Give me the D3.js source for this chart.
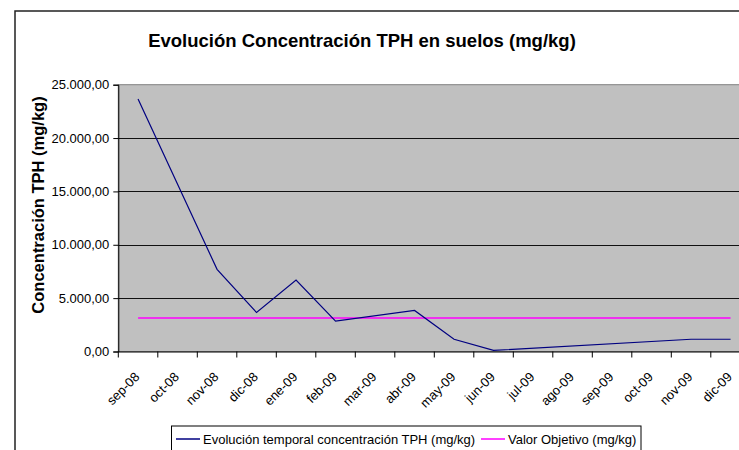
<!DOCTYPE html>
<html>
<head>
<meta charset="utf-8">
<script src="https://cdn.jsdelivr.net/npm/d3@7"></script>
<style>
	body { margin: 0; background: white; }
	svg { display: block; font-family: "Liberation Sans", Arial, sans-serif; }
</style>
</head>
<body>
<script>
var months = ["sep-08", "oct-08", "nov-08", "dic-08", "ene-09", "feb-09", "mar-09", "abr-09",
	"may-09", "jun-09", "jul-09", "ago-09", "sep-09", "oct-09", "nov-09", "dic-09"];

// null = no sample that month, Excel just joins the neighbours
var tph = [23650, null, 7700, 3650, 6700, 2850, null, 3850,
	1150, 100, null, null, null, null, 1150, 1150];

var objetivo = [3150, 3150, 3150, 3150, 3150, 3150, 3150, 3150,
	3150, 3150, 3150, 3150, 3150, 3150, 3150, 3150];

var yTicks = [0, 5000, 10000, 15000, 20000, 25000];

var titleText = "Evolución Concentración TPH en suelos (mg/kg)";
var yTitleText = "Concentración TPH (mg/kg)";
var legendNames = ["Evolución temporal concentración TPH (mg/kg)", "Valor Objetivo (mg/kg)"];

var width = 739;
var height = 450;

// plot area runs past the right edge of the picture
var plot = { left: 118.3, right: 750.3, top: 84.7, bottom: 351.5 };

var fmt = v => {
	var s = d3.format(",.2f")(v);
	return s.replace(/,/g, "#").replace(/\./g, ",").replace(/#/g, ".");
}

var svg = d3.select("body").append("svg")
		.attr("width", width)
		.attr("height", height)

// chart frame
svg.append("rect")
		.attr("x", 15)
		.attr("y", 11)
		.attr("width", 800)
		.attr("height", 500)
		.attr("fill", "white")
		.attr("stroke", "#222")
		.attr("stroke-width", 1.5)

var xScale = d3.scaleBand()
	.domain(months)
	.range([plot.left, plot.right])

var yScale = d3.scaleLinear()
	.domain([0, 25000])
	.range([plot.bottom, plot.top])

var cx = i => xScale(months[i]) + xScale.bandwidth()/2;

svg.append("rect")
		.attr("x", plot.left)
		.attr("y", plot.top)
		.attr("width", plot.right - plot.left)
		.attr("height", plot.bottom - plot.top)
		.attr("fill", "#C0C0C0")
		.attr("stroke", "#808080")
		.attr("stroke-width", 1)

// gridlines
svg.append("g")
		.selectAll("line")
		.data(yTicks.slice(1, -1))
		.join("line")
		.attr("x1", plot.left)
		.attr("x2", plot.right)
		.attr("y1", d => Math.round(yScale(d)) + 0.5)
		.attr("y2", d => Math.round(yScale(d)) + 0.5)
		.attr("stroke", "#111")
		.attr("stroke-width", 1)

var yAxis = svg.append("g")
	.attr("transform", "translate(" + plot.left + ",0)")
	.call(
		d3.axisLeft(yScale)
			.tickValues(yTicks)
			.tickFormat(fmt)
			.tickSize(5)
			.tickPadding(4)
	);

yAxis.select(".domain").attr("stroke", "black");
yAxis.selectAll("text")
		.style("font-size", "13px")
		.attr("fill", "black")

var xAxis = svg.append("g")
	.attr("transform", "translate(0," + plot.bottom + ")")
	.call(
		d3.axisBottom(xScale)
			.tickSize(0)
			.tickFormat("")
	);

xAxis.select(".domain").attr("stroke", "black");

// excel puts the ticks between categories
var tickXs = months.map(m => xScale(m)).concat([plot.right]);
xAxis.selectAll(".between")
		.data(tickXs)
		.join("line")
		.attr("class", "between")
		.attr("x1", d => d)
		.attr("x2", d => d)
		.attr("y1", 0)
		.attr("y2", 6)
		.attr("stroke", "black")

xAxis.selectAll(".lbl")
		.data(months)
		.join("text")
		.attr("class", "lbl")
		.attr("text-anchor", "end")
		.attr("fill", "black")
		.attr("dy", "0.35em")
		.attr("transform", (d, i) => "translate(" + (cx(i) - 1) + ",23) rotate(-45)")
		.style("font-size", "13px")
		.text(d => d)

var lineGen = d3.line()
	.x(d => cx(d.i))
	.y(d => yScale(d.v))

var tphPts = tph.map((v, i) => ({ i: i, v: v })).filter(d => d.v != null);
var objPts = objetivo.map((v, i) => ({ i: i, v: v }));

svg.append("path")
		.datum(objPts)
		.attr("fill", "none")
		.attr("stroke", "#FF00FF")
		.attr("stroke-width", 1.5)
		.attr("d", lineGen)

svg.append("path")
		.datum(tphPts)
		.attr("fill", "none")
		.attr("stroke", "#000080")
		.attr("stroke-width", 1.2)
		.attr("d", lineGen)

// titles
svg.append("text")
		.attr("x", 362)
		.attr("y", 47)
		.attr("text-anchor", "middle")
		.style("font-size", "18.5px")
		.style("font-weight", "bold")
		.text(titleText)

svg.append("text")
		.attr("transform", "translate(44,205) rotate(-90)")
		.attr("text-anchor", "middle")
		.style("font-size", "16.5px")
		.style("font-weight", "bold")
		.text(yTitleText)

// legend
var legend = svg.append("g")

legend.append("rect")
		.attr("x", 171.5)
		.attr("y", 426)
		.attr("width", 469.5)
		.attr("height", 40)
		.attr("fill", "white")
		.attr("stroke", "black")
		.attr("stroke-width", 1)

var legendItems = [
	{ name: legendNames[0], color: "#000080", x: 176 },
	{ name: legendNames[1], color: "#FF00FF", x: 481 }
];

legendItems.forEach(d => {
	legend.append("line")
			.attr("x1", d.x)
			.attr("x2", d.x + 24)
			.attr("y1", 439)
			.attr("y2", 439)
			.attr("stroke", d.color)
			.attr("stroke-width", 1.5)

	legend.append("text")
			.attr("x", d.x + 27)
			.attr("y", 443.5)
			.style("font-size", "13px")
			.text(d.name)
})
</script>
</body>
</html>
